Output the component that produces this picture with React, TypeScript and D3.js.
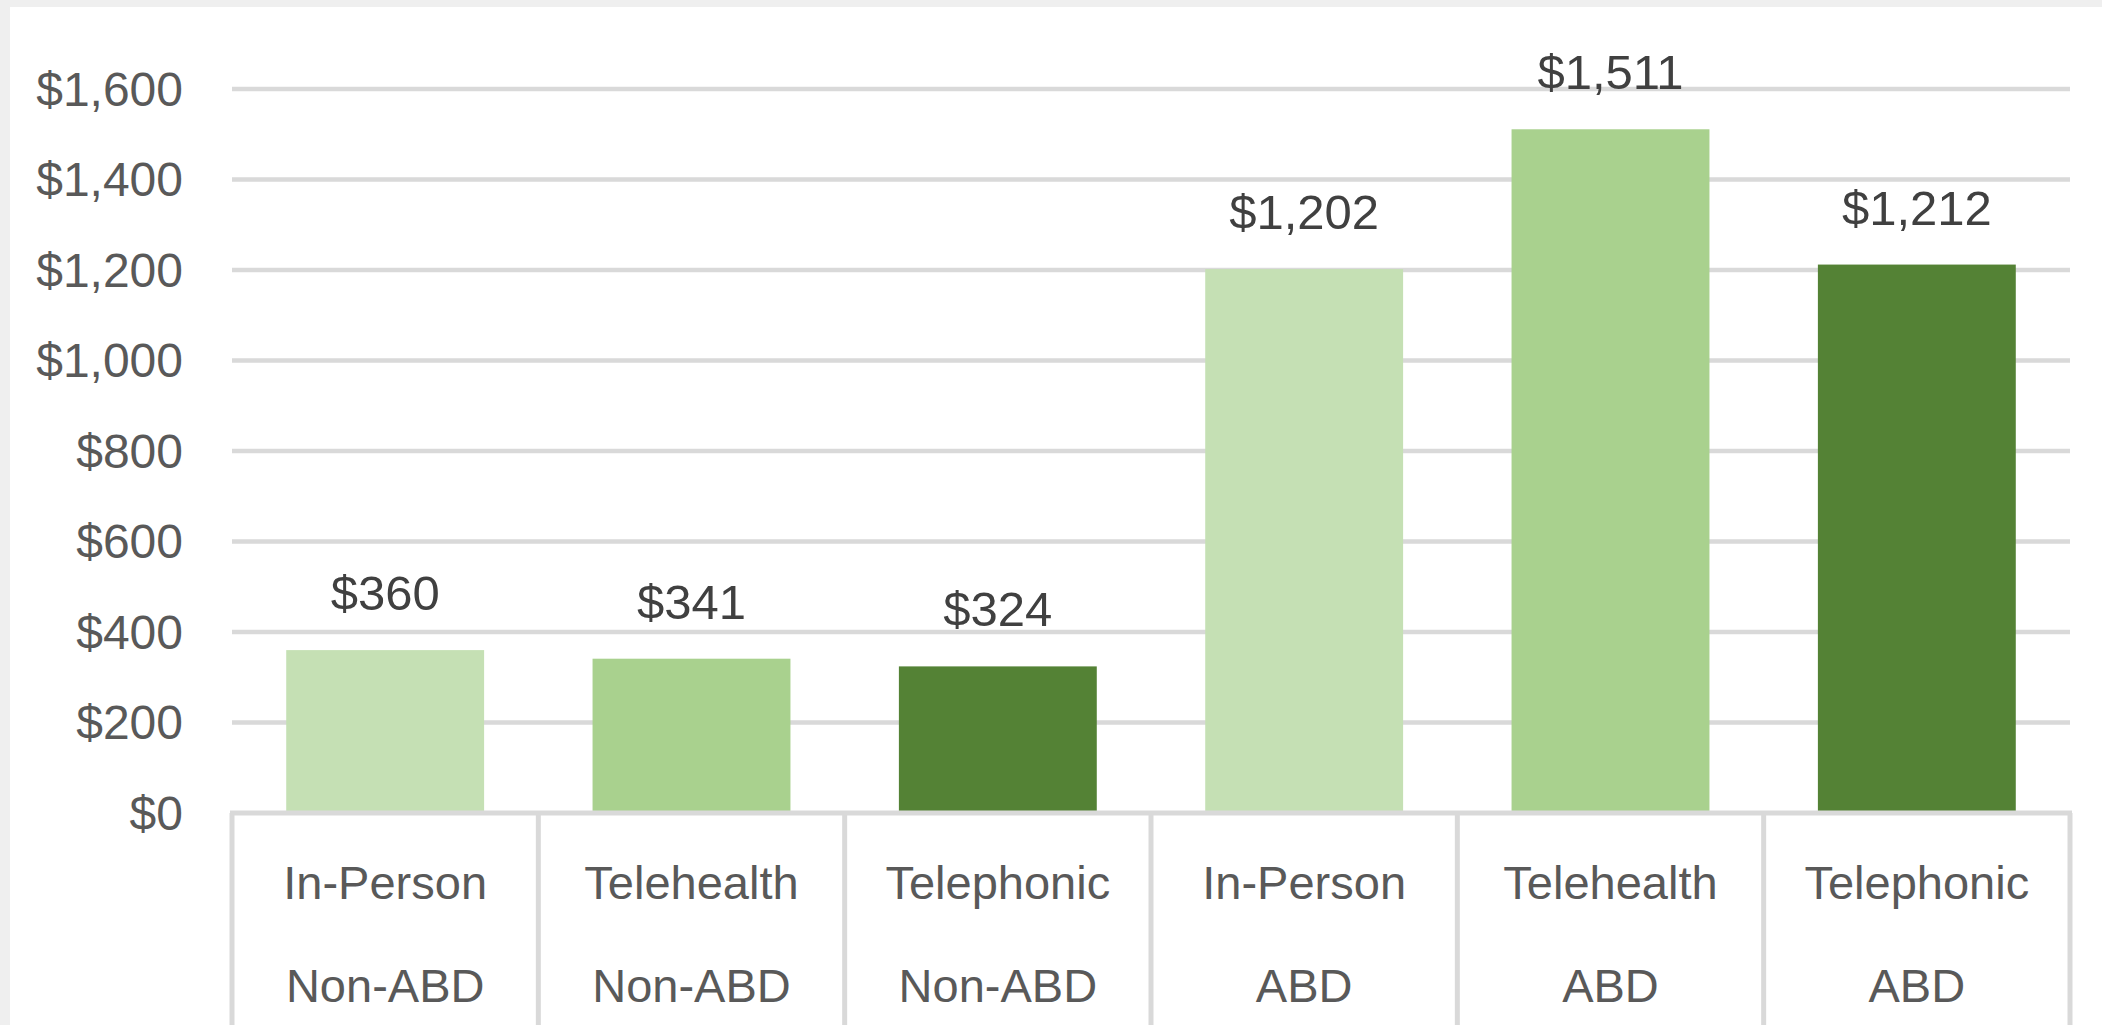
import React from "react";
import * as d3 from "d3";

const methods = ["In-Person", "Telehealth", "Telephonic", "In-Person", "Telehealth", "Telephonic"];
const groups = ["Non-ABD", "Non-ABD", "Non-ABD", "ABD", "ABD", "ABD"];
const values = [360, 341, 324, 1202, 1511, 1212];
const barColors = ["#c5e0b4", "#a9d18e", "#548235", "#c5e0b4", "#a9d18e", "#548235"];
const yTicks = [0, 200, 400, 600, 800, 1000, 1200, 1400, 1600];

const W = 2102;
const H = 1025;
const left = 232;
const right = 2070;
const top = 89;
const bottom = 813;
const FONT = "'Liberation Sans', Arial, sans-serif";

export default function App() {
  const idx = values.map((_, i) => String(i));
  const x = d3.scaleBand<string>().domain(idx).range([left, right]).paddingInner(0.354).paddingOuter(0.177);
  const xCat = d3.scaleBand<string>().domain(idx).range([left, right]).padding(0);
  const y = d3.scaleLinear().domain([0, 1600]).range([bottom, top]);
  const fmt = d3.format("$,.0f");
  const boundaries = idx.map((d) => xCat(d)!).concat([right]);

  return (
    <svg width={W} height={H} style={{ position: "absolute", left: 0, top: 0 }} fontFamily={FONT}>
      <rect x={0} y={0} width={W} height={H} fill="#efefef" />
      <rect x={10} y={7} width={W - 10} height={H - 7} fill="#ffffff" />
      {yTicks.map((t) => (
        <g key={t}>
          {t > 0 && (
            <line x1={left} x2={right} y1={y(t)} y2={y(t)} stroke="#d9d9d9" strokeWidth={4.5} />
          )}
          <text x={183} y={y(t)} dy="0.35em" textAnchor="end" fontSize={48} fill="#595959">
            {fmt(t)}
          </text>
        </g>
      ))}
      {values.map((v, i) => (
        <rect
          key={"b" + i}
          x={x(String(i))}
          y={y(v)}
          width={x.bandwidth()}
          height={y(0) - y(v)}
          fill={barColors[i]}
        />
      ))}
      {values.map((v, i) => (
        <text
          key={"l" + i}
          x={x(String(i))! + x.bandwidth() / 2}
          y={y(v) - 40}
          textAnchor="middle"
          fontSize={49}
          fill="#404040"
        >
          {fmt(v)}
        </text>
      ))}
      <line x1={left - 2} x2={right + 2} y1={bottom} y2={bottom} stroke="#d9d9d9" strokeWidth={5} />
      {boundaries.map((bx, i) => (
        <line key={"s" + i} x1={bx} x2={bx} y1={bottom} y2={H} stroke="#d9d9d9" strokeWidth={5} />
      ))}
      {methods.map((m, i) => (
        <g key={"c" + i}>
          <text x={xCat(String(i))! + xCat.bandwidth() / 2} y={899} textAnchor="middle" fontSize={47} fill="#595959">
            {m}
          </text>
          <text x={xCat(String(i))! + xCat.bandwidth() / 2} y={1002} textAnchor="middle" fontSize={47} fill="#595959">
            {groups[i]}
          </text>
        </g>
      ))}
    </svg>
  );
}
